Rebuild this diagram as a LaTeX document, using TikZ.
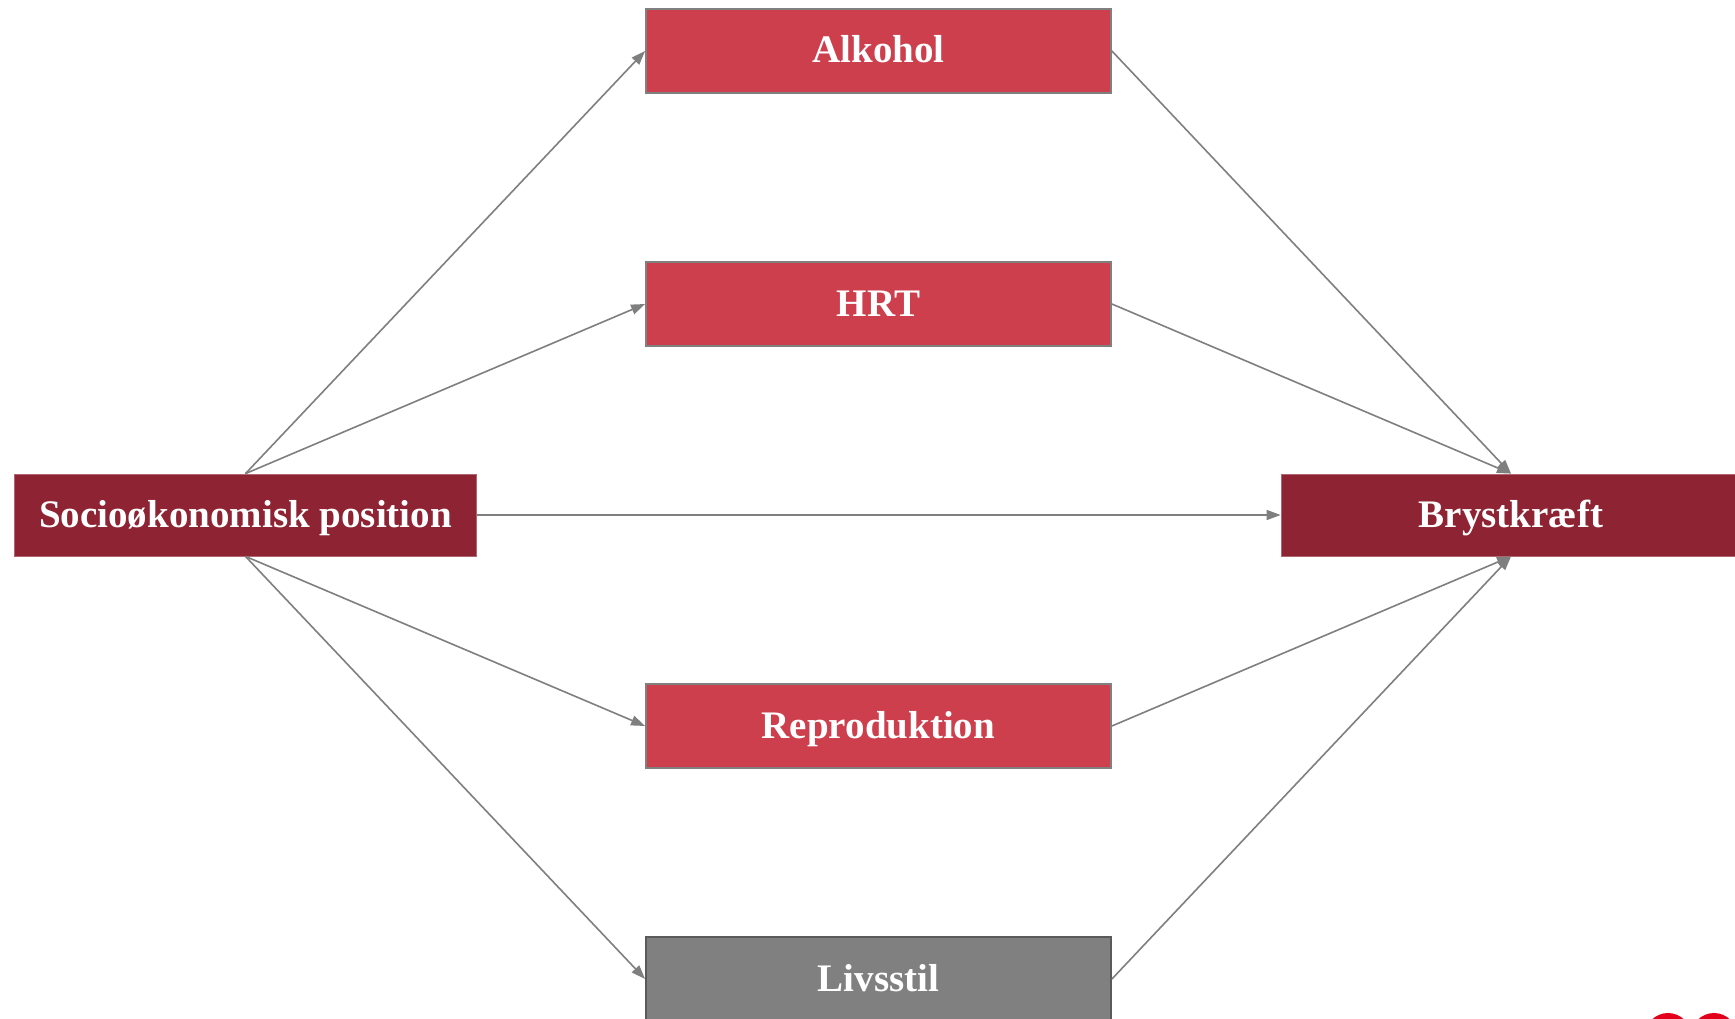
\documentclass[tikz,border=0pt]{standalone}
\usepackage{fontspec}
\setmainfont{Liberation Serif}
\usetikzlibrary{arrows.meta}
\definecolor{darkred}{HTML}{8E2433}
\definecolor{midred}{HTML}{CE3F4E}
\definecolor{boxgray}{HTML}{808080}
\definecolor{edgegray}{HTML}{7F7F7F}
\definecolor{logored}{HTML}{E2001A}
\begin{document}
\begin{tikzpicture}[x=1pt,y=-1pt,
  label/.style={font=\fontsize{39}{41}\selectfont\bfseries, text=white, text height=24pt, text depth=0pt},
  mainbox/.style={label, fill=darkred, draw=darkred!70!white, line width=0.8pt, inner sep=0pt},
  factorbox/.style={label, fill=midred, draw=boxgray, line width=1.8pt, minimum width=465pt, minimum height=84pt, inner sep=0pt},
  lifebox/.style={factorbox, fill=boxgray, draw=boxgray!70!black},
  link/.style={draw=edgegray, line width=1.6pt, -{Triangle[length=14pt,width=10pt]}}]
\useasboundingbox (0,0) rectangle (1735,1019);
\clip (0,0) rectangle (1735,1019);
\fill[white] (0,0) rectangle (1735,1019);

% exposure and outcome
\node[mainbox, minimum width=462pt, minimum height=82pt] (ses) at (245.5,515) {Socioøkonomisk position};
\node[mainbox, minimum width=460pt, minimum height=82pt] (bc) at (1511,515) {Brystkræft};

% mediating factors
\node[factorbox] (alc) at (878.5,51) {Alkohol};
\node[factorbox] (hrt) at (878.5,304) {HRT};
\node[factorbox] (rep) at (878.5,726) {Reproduktion};
\node[lifebox] (life) at (878.5,979) {Livsstil};

% paths from exposure
\draw[link] (ses.north) -- (alc.west);
\draw[link] (ses.north) -- (hrt.west);
\draw[link] (ses.east) -- (bc.west);
\draw[link] (ses.south) -- (rep.west);
\draw[link] (ses.south) -- (life.west);

% paths to outcome
\draw[link] (alc.east) -- (bc.north);
\draw[link] (hrt.east) -- (bc.north);
\draw[link] (rep.east) -- (bc.south);
\draw[link] (life.east) -- (bc.south);

% logo fragment in the corner
\fill[logored] (1668,1036) circle (23pt);
\fill[logored] (1714,1036) circle (23pt);
\end{tikzpicture}
\end{document}
